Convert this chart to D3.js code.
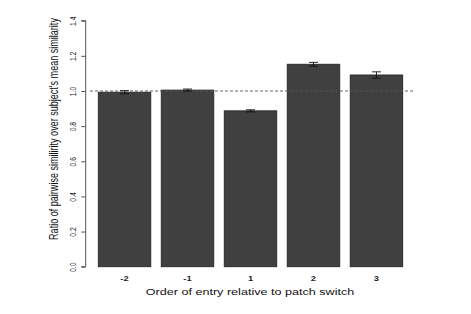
<!DOCTYPE html>
<html><head><meta charset="utf-8">
<script src="https://cdn.jsdelivr.net/npm/d3@7"></script>
<style>body{margin:0;background:#fff}svg{display:block}text{font-family:"Liberation Sans",Arial,sans-serif}</style>
</head><body>
<script>
const categories = ["-2","-1","1","2","3"];
const values = [0.993, 1.005, 0.887, 1.152, 1.091];
const errors = [0.009, 0.006, 0.006, 0.011, 0.018];
const yTicks = [0.0,0.2,0.4,0.6,0.8,1.0,1.2,1.4];
const refValue = 1.0;

const W=471,H=314, SX=1.4;
const svg=d3.select("body").append("svg").attr("width",W).attr("height",H);
const y=d3.scaleLinear().domain([0,1.4]).range([266.7,20.7]);
const x=d3.scaleBand().domain(categories).range([87.8,413.2]).paddingInner(0.2/1.2).paddingOuter(0.2/1.2);
const bw=x.bandwidth();

svg.selectAll("rect.bar").data(values).join("rect").attr("class","bar")
  .attr("x",(d,i)=>x(categories[i])).attr("y",d=>y(d))
  .attr("width",bw).attr("height",d=>y(0)-y(d))
  .attr("fill","#404040").attr("stroke","#262626").attr("stroke-width",0.9);

svg.append("line").attr("x1",90).attr("x2",413).attr("y1",y(refValue)).attr("y2",y(refValue))
  .attr("stroke","#555").attr("stroke-width",0.9).attr("stroke-dasharray","3,2");

const eg=svg.append("g").attr("stroke","#111").attr("stroke-width",0.9);
values.forEach((v,i)=>{
  const cx=x(categories[i])+bw/2, hi=y(v+errors[i]), lo=y(v-errors[i]);
  eg.append("line").attr("x1",cx).attr("x2",cx).attr("y1",hi).attr("y2",lo);
  eg.append("line").attr("x1",cx-4.5).attr("x2",cx+4.5).attr("y1",hi).attr("y2",hi);
  eg.append("line").attr("x1",cx-4.5).attr("x2",cx+4.5).attr("y1",lo).attr("y2",lo);
});

// y axis
const ax=svg.append("g").attr("transform","translate(85.7,0)")
  .call(d3.axisLeft(y).tickValues(yTicks).tickSize(4.4).tickFormat(d3.format(".1f")));
ax.select(".domain").attr("stroke","#555").attr("d",`M-4.4,${y(0)}H0V${y(1.4)}H-4.4`);
ax.selectAll(".tick line").attr("stroke","#555");
ax.selectAll(".tick text")
  .attr("x",null).attr("dy",null).attr("y",0)
  .attr("font-size",6.8).attr("fill","#222").attr("text-anchor","middle")
  .attr("transform",`translate(-10,0) scale(${SX},1) rotate(-90)`);

// x tick labels
svg.selectAll("text.xl").data(categories).join("text").attr("class","xl")
  .attr("transform",d=>`translate(${x(d)+bw/2},280.7) scale(${SX},1)`)
  .attr("text-anchor","middle")
  .attr("font-size",6.7).attr("font-weight","bold").attr("fill","#222").text(d=>d);

svg.append("text").attr("transform",`translate(250,295) scale(${SX},1)`).attr("text-anchor","middle")
  .attr("font-size",9).attr("fill","#111").text("Order of entry relative to patch switch");

svg.append("text").attr("transform",`translate(58.3,129) scale(${SX},1) rotate(-90)`).attr("text-anchor","middle")
  .attr("font-size",9.05).attr("fill","#111").text("Ratio of pairwise similirity over subject's mean similarity");
</script>
</body></html>
